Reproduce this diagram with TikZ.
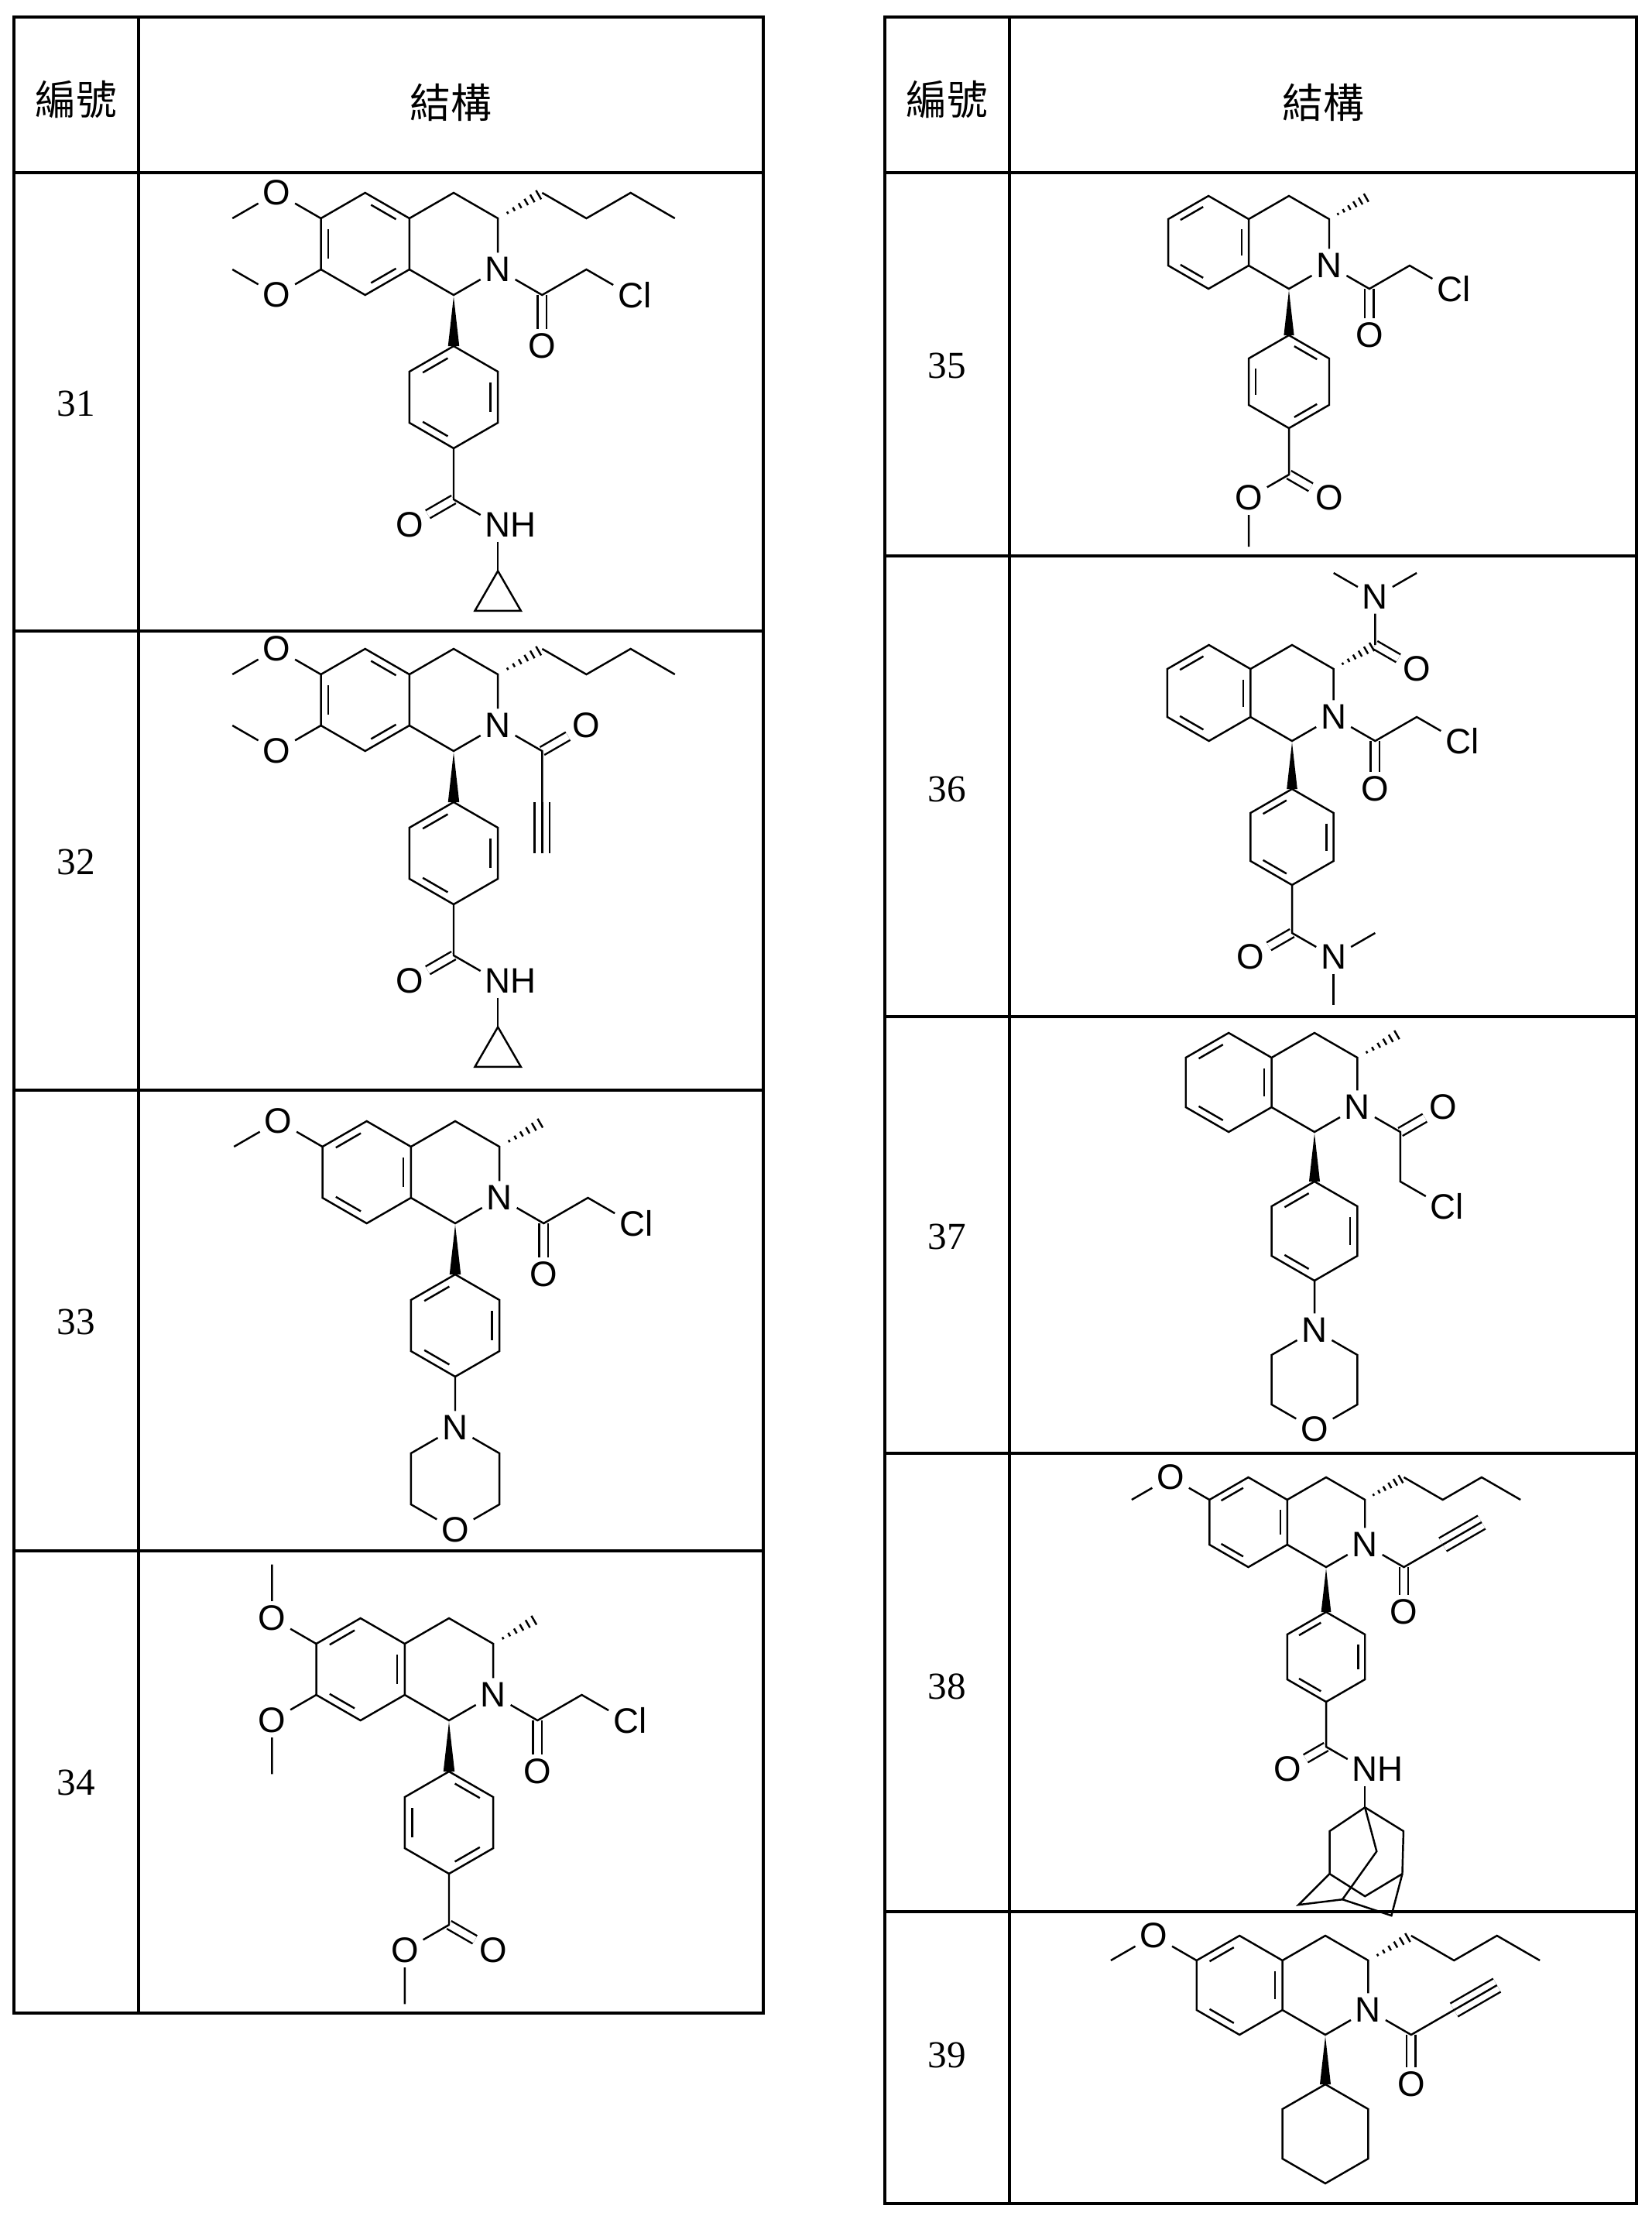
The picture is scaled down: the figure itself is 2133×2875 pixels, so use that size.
\documentclass[tikz,border=0pt]{standalone}
\usepackage{fontspec}
\setmainfont{Liberation Serif}
\newfontfamily\atomfont{Liberation Sans}
\newfontfamily\cjk{Noto Sans CJK TC}
\usetikzlibrary{calc}

\tikzset{
  atom/.style={font=\atomfont\fontsize{13}{13}\selectfont, inner sep=1.5pt},
  bond/.style={line width=0.7pt},
  dbl/.style={line width=0.7pt, double, double distance=0.9mm},
  grid/.style={line width=1pt},
  numlabel/.style={font=\fontsize{14}{14}\selectfont},
  headlabel/.style={font=\cjk\fontsize{15}{15}\selectfont}
}

% bond length and helpers
\newcommand{\setbond}[1]{\pgfmathsetmacro{\bl}{#1}\pgfmathsetmacro{\bh}{0.866*#1}}
\newcommand{\cat}[4]{\coordinate (#1) at ($(#2)+({#3*\bh},{#4*\bl})$);}
\newcommand{\atomat}[5]{\node[atom] (#1) at ($(#2)+({#3*\bh},{#4*\bl})$) {#5};}
\newcommand{\inbond}[3]{\draw[bond] ($(#1)!0.16!(#2)!0.17!(#3)$) -- ($(#1)!0.84!(#2)!0.17!(#3)$);}
\newcommand{\wedgebond}[2]{\fill ($(#1)!0.03!(#2)$) -- ($(#2)!0.11!90:(#1)$) -- ($(#2)!0.11!-90:(#1)$) -- cycle;}
\newcommand{\hashbond}[2]{\foreach \t in {0.22,0.36,0.5,0.64,0.78,0.92}
  {\draw[bond] ($(#1)!\t!(#2)!0.11!90:(#1)$) -- ($(#1)!\t!(#2)!0.11!-90:(#1)$);}}
\newcommand{\triplebond}[2]{\draw[bond, double, double distance=1.7mm] (#1) -- (#2); \draw[bond] (#1) -- (#2);}

% tetrahydroisoquinoline core, C1 at the origin
\newcommand{\thiq}{%
  \coordinate (c1) at (0,0);
  \atomat{n2}{c1}{1}{-0.5}{N}
  \cat{c3}{c1}{1}{-1.5} \cat{c4}{c1}{0}{-2} \cat{c4a}{c1}{-1}{-1.5}
  \cat{c8a}{c1}{-1}{-0.5} \cat{c5}{c1}{-2}{-2} \cat{c6}{c1}{-3}{-1.5}
  \cat{c7}{c1}{-3}{-0.5} \cat{c8}{c1}{-2}{0} \cat{ra}{c1}{-2}{-1}
  \draw[bond] (c8a) -- (c1) -- (n2) -- (c3) -- (c4) -- (c4a) -- (c5) -- (c6)
    -- (c7) -- (c8) -- (c8a) -- (c4a);}
\newcommand{\ringAone}{\inbond{c6}{c5}{ra}\inbond{c4a}{c8a}{ra}\inbond{c7}{c8}{ra}}
\newcommand{\ringAtwo}{\inbond{c5}{c4a}{ra}\inbond{c6}{c7}{ra}\inbond{c8}{c8a}{ra}}

% ring substituents
\newcommand{\omesix}{\atomat{o6}{c6}{-1}{-0.5}{O}\cat{me6}{o6}{-1}{0.5}
  \draw[bond] (c6) -- (o6) -- (me6);}
\newcommand{\omeseven}{\atomat{o7}{c7}{-1}{0.5}{O}\cat{me7}{o7}{-1}{-0.5}
  \draw[bond] (c7) -- (o7) -- (me7);}
\newcommand{\omevert}{\atomat{o6}{c6}{-1}{-0.5}{O}\cat{me6}{o6}{0}{-1.05}
  \atomat{o7}{c7}{-1}{0.5}{O}\cat{me7}{o7}{0}{1.05}
  \draw[bond] (c6) -- (o6) -- (me6); \draw[bond] (c7) -- (o7) -- (me7);}
\newcommand{\butyl}{\cat{b1}{c3}{1}{-0.5}\cat{b2}{b1}{1}{0.5}\cat{b3}{b2}{1}{-0.5}\cat{b4}{b3}{1}{0.5}
  \hashbond{c3}{b1} \draw[bond] (b1) -- (b2) -- (b3) -- (b4);}
\newcommand{\methyl}{\cat{m3}{c3}{1}{-0.5}\hashbond{c3}{m3}}

% N-acyl groups
\newcommand{\chloroacetyl}{\cat{a1}{n2}{1}{0.5}\atomat{oa}{a1}{0}{1}{O}
  \cat{a2}{a1}{1}{-0.5}\atomat{cl}{a2}{1}{0.5}{C\rlap{l}}
  \draw[dbl] (a1) -- (oa); \draw[bond] (n2) -- (a1) -- (a2) -- (cl);}
\newcommand{\chloroacetyldown}{\cat{a1}{n2}{1}{0.5}\atomat{oa}{a1}{1}{-0.5}{O}
  \cat{a2}{a1}{0}{1}\atomat{cl}{a2}{1}{0.5}{C\rlap{l}}
  \draw[dbl] (a1) -- (oa); \draw[bond] (n2) -- (a1) -- (a2) -- (cl);}
\newcommand{\propynoyldown}{\cat{a1}{n2}{1}{0.5}\atomat{oa}{a1}{1}{-0.5}{O}
  \cat{y1}{a1}{0}{1}\cat{y2}{a1}{0}{2}
  \draw[dbl] (a1) -- (oa); \triplebond{y1}{y2} \draw[bond] (n2) -- (a1) -- (y1);}
\newcommand{\propynoyl}{\cat{a1}{n2}{1}{0.5}\atomat{oa}{a1}{0}{1}{O}
  \cat{y1}{a1}{1}{-0.5}\cat{y2}{a1}{2}{-1}
  \draw[dbl] (a1) -- (oa); \triplebond{y1}{y2} \draw[bond] (n2) -- (a1) -- (y1);}

% C1 aryl and its para groups
\newcommand{\phenyl}{\cat{p1}{c1}{0}{1}\cat{p2}{c1}{1}{1.5}\cat{p3}{c1}{1}{2.5}
  \cat{p4}{c1}{0}{3}\cat{p5}{c1}{-1}{2.5}\cat{p6}{c1}{-1}{1.5}\cat{rp}{c1}{0}{2}
  \wedgebond{c1}{p1} \draw[bond] (p1) -- (p2) -- (p3) -- (p4) -- (p5) -- (p6) -- cycle;}
\newcommand{\phenylA}{\phenyl\inbond{p6}{p1}{rp}\inbond{p2}{p3}{rp}\inbond{p4}{p5}{rp}}
\newcommand{\phenylB}{\phenyl\inbond{p1}{p2}{rp}\inbond{p5}{p6}{rp}\inbond{p3}{p4}{rp}}
\newcommand{\amidenh}{\cat{k}{p4}{0}{1}\atomat{ok}{k}{-1}{0.5}{O}\atomat{nk}{k}{1}{0.5}{N\rlap{H}}
  \draw[dbl] (k) -- (ok); \draw[bond] (p4) -- (k) -- (nk);}
\newcommand{\cyclopropyl}{\cat{cp1}{nk}{0}{0.9}\cat{cp2}{cp1}{-0.52}{0.78}\cat{cp3}{cp1}{0.52}{0.78}
  \draw[bond] (nk) -- (cp1); \draw[bond] (cp1) -- (cp2) -- (cp3) -- cycle;}
\newcommand{\morpholine}{\atomat{mn}{p4}{0}{1}{N}\cat{r1}{mn}{1}{0.5}\cat{r2}{mn}{1}{1.5}
  \atomat{mo}{mn}{0}{2}{O}\cat{r4}{mn}{-1}{1.5}\cat{r5}{mn}{-1}{0.5}
  \draw[bond] (p4) -- (mn) -- (r1) -- (r2) -- (mo) -- (r4) -- (r5) -- (mn);}
\newcommand{\ester}{\cat{k}{p4}{0}{1}\atomat{eo}{k}{1}{0.5}{O}\atomat{eo2}{k}{-1}{0.5}{O}
  \cat{em}{eo2}{0}{1.05}
  \draw[dbl] (k) -- (eo); \draw[bond] (p4) -- (k) -- (eo2) -- (em);}

\begin{document}
\begin{tikzpicture}[x=0.1mm, y=-0.1mm]
\useasboundingbox (0,0) rectangle (2133,2875);

% tables
\draw[grid] (18,22) rectangle (986,2600);
\draw[grid] (179,22) -- (179,2600);
\foreach \yy in {223,815,1408,2003} \draw[grid] (18,\yy) -- (986,\yy);
\draw[grid] (1143,22) rectangle (2114,2846);
\draw[grid] (1304,22) -- (1304,2846);
\foreach \yy in {223,718,1313,1877,2469} \draw[grid] (1143,\yy) -- (2114,\yy);

% headers and numbers
\node[headlabel] (hnl) at (98,128) {編號};
\node[headlabel] (hsl) at (582,132) {結構};
\node[headlabel] (hnr) at (1223,128) {編號};
\node[headlabel] (hsr) at (1709,132) {結構};
\node[numlabel] (n31) at (98,521) {31};
\node[numlabel] (n32) at (98,1113) {32};
\node[numlabel] (n33) at (98,1707) {33};
\node[numlabel] (n34) at (98,2302) {34};
\node[numlabel] (n35) at (1223,472) {35};
\node[numlabel] (n36) at (1223,1019) {36};
\node[numlabel] (n37) at (1223,1597) {37};
\node[numlabel] (n38) at (1223,2178) {38};
\node[numlabel] (n39) at (1223,2654) {39};

% 31
\begin{scope}[shift={(586,381)}]
\setbond{66}
\thiq \ringAtwo \omesix \omeseven \butyl \chloroacetyl
\phenylA \amidenh \cyclopropyl
\end{scope}

% 32
\begin{scope}[shift={(586,970)}]
\setbond{66}
\thiq \ringAtwo \omesix \omeseven \butyl \propynoyldown
\phenylA \amidenh \cyclopropyl
\end{scope}

% 33
\begin{scope}[shift={(588,1580)}]
\setbond{66}
\thiq \ringAone \omesix \methyl \chloroacetyl
\phenylA \morpholine
\end{scope}

% 34
\begin{scope}[shift={(580,2222)}]
\setbond{66}
\thiq \ringAone \omevert \methyl \chloroacetyl
\phenylB \ester
\end{scope}

% 35
\begin{scope}[shift={(1665,373)}]
\setbond{60}
\thiq \ringAone \methyl \chloroacetyl
\phenylB \ester
\end{scope}

% 36
\begin{scope}[shift={(1669,957)}]
\setbond{62}
\thiq \ringAone \chloroacetyl \phenylA
\cat{k3}{c3}{1}{-0.5}\atomat{o3}{k3}{1}{0.5}{O}\atomat{nt}{k3}{0}{-1}{N}
\cat{t1}{nt}{-1}{-0.5}\cat{t2}{nt}{1}{-0.5}
\hashbond{c3}{k3}
\draw[dbl] (k3) -- (o3);
\draw[bond] (k3) -- (nt) -- (t1);
\draw[bond] (nt) -- (t2);
\cat{k}{p4}{0}{1}\atomat{ok}{k}{-1}{0.5}{O}\atomat{nd}{k}{1}{0.5}{N}
\cat{d1}{nd}{1}{-0.5}\cat{d2}{nd}{0}{1}
\draw[dbl] (k) -- (ok);
\draw[bond] (p4) -- (k) -- (nd) -- (d1);
\draw[bond] (nd) -- (d2);
\end{scope}

% 37
\begin{scope}[shift={(1698,1462)}]
\setbond{64}
\thiq \ringAone \methyl \chloroacetyldown
\phenylA \morpholine
\end{scope}

% 38
\begin{scope}[shift={(1713,2024)}]
\setbond{58}
\thiq \ringAone \omesix \butyl \propynoyl
\phenylA \amidenh
\cat{aq}{nk}{0}{0.85}
\cat{al}{aq}{-0.91}{0.53} \cat{ar}{aq}{0.99}{0.53} \cat{ai}{aq}{0.30}{0.98}
\cat{hl}{aq}{-0.91}{1.48} \cat{hr}{aq}{0.96}{1.48} \cat{am}{aq}{0}{1.98}
\cat{bl}{aq}{-1.71}{2.17} \cat{hb}{aq}{-0.58}{2.05} \cat{br}{aq}{0.68}{2.41}
\draw[bond] (nk) -- (aq);
\draw[bond] (hl) -- (al) -- (aq) -- (ar) -- (hr) -- (am) -- (hl);
\draw[bond] (aq) -- (ai) -- (hb) -- (br) -- (hr);
\draw[bond] (hl) -- (bl) -- (hb);
\end{scope}

% 39
\begin{scope}[shift={(1712,2628)}]
\setbond{64}
\thiq \ringAone \omesix \butyl \propynoyl
\cat{y1}{c1}{0}{1}\cat{y2}{c1}{1}{1.5}\cat{y3}{c1}{1}{2.5}
\cat{y4}{c1}{0}{3}\cat{y5}{c1}{-1}{2.5}\cat{y6}{c1}{-1}{1.5}
\wedgebond{c1}{y1}
\draw[bond] (y1) -- (y2) -- (y3) -- (y4) -- (y5) -- (y6) -- cycle;
\end{scope}
\end{tikzpicture}
\end{document}
